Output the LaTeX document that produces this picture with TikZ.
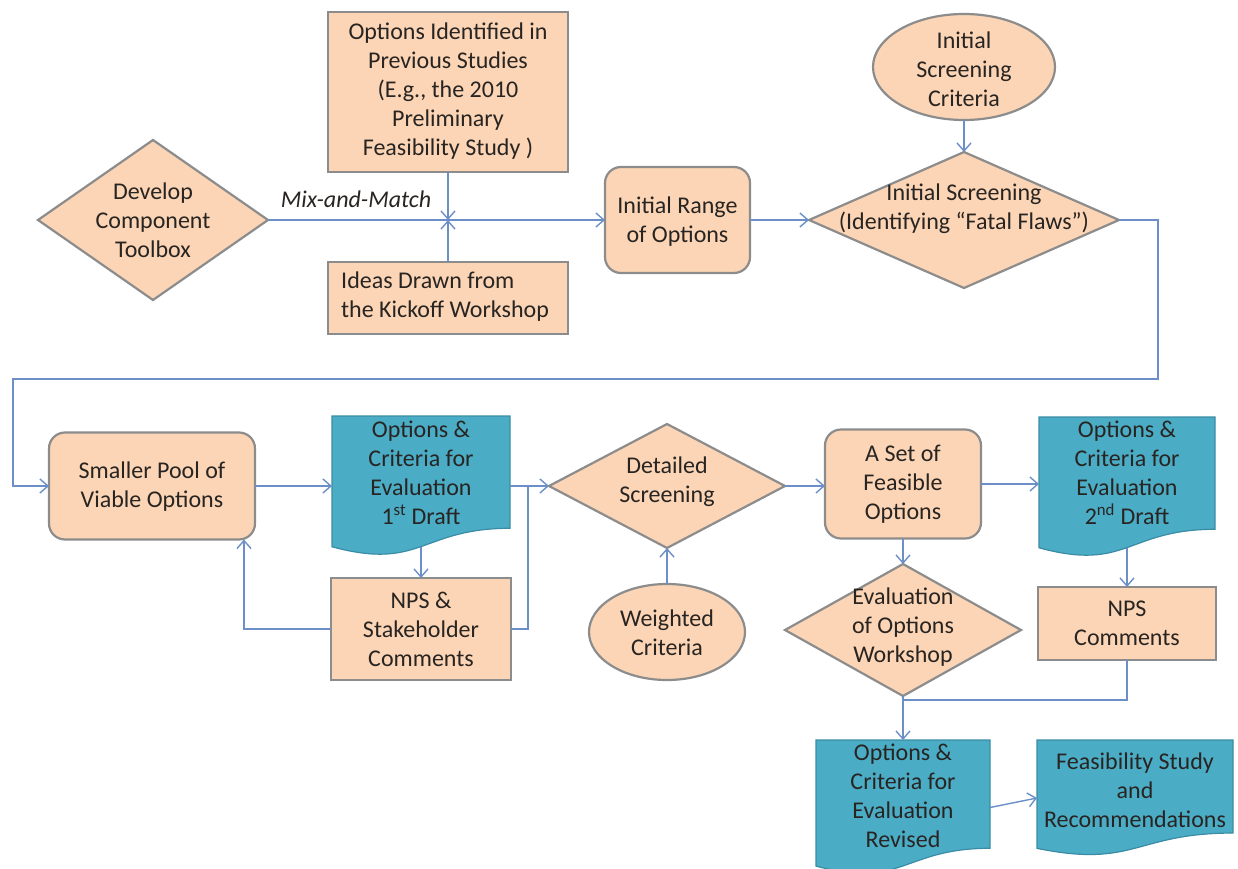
\documentclass[tikz,border=0pt]{standalone}
\usepackage{fontspec}
\setmainfont{Carlito}
\usetikzlibrary{shapes.geometric,arrows.meta,calc}
\definecolor{peach}{RGB}{251,213,181}
\definecolor{bord}{RGB}{140,140,140}
\definecolor{tealf}{RGB}{75,172,198}
\definecolor{tealb}{RGB}{58,140,166}
\definecolor{connc}{RGB}{108,143,200}
\definecolor{txtc}{RGB}{40,36,34}
\newcommand\docpath[1]{%
  \path[docst] (#1.north west) -- (#1.north east)
    -- ($(#1.north east)!0.802!(#1.south east)$)
    .. controls ($(#1.north)!0.802!(#1.south)$) and ($(#1.north)!1.107!(#1.south)$)
    .. ($(#1.north west)!0.934!(#1.south west)$) -- cycle;}
\begin{document}
\begin{tikzpicture}[x=1pt,y=-1pt,
  shp/.style={fill=peach, draw=bord, line width=2.2pt, inner sep=0pt, outer sep=0pt},
  sbox/.style 2 args={shp, rectangle, minimum width=#1, minimum height=#2},
  rbox/.style 2 args={shp, rectangle, rounded corners=16pt, minimum width=#1, minimum height=#2},
  diam/.style 2 args={shp, diamond, minimum width=#1, minimum height=#2},
  ell/.style 2 args={shp, ellipse, minimum width=#1, minimum height=#2},
  docbox/.style 2 args={rectangle, draw=none, inner sep=0pt, outer sep=0pt, minimum width=#1, minimum height=#2},
  docst/.style={fill=tealf, draw=tealb, line width=1.2pt},
  txt/.style={align=center, font=\fontsize{24}{29}\selectfont, text=txtc, inner sep=0pt},
  conn/.style={draw=connc, line width=1.4pt},
  arr/.style={conn, -{Straight Barb[length=8pt,width=14pt]}}]
\useasboundingbox (0,0) rectangle (1238,869);

% ---------- top row ----------
\node[diam={230}{160}] (dev) at (153,220) {};
\node[txt] (devt) at (153,220) {Develop\\Component\\Toolbox};

\node[sbox={240}{160}] (opt) at (448,92) {};
\node[txt] (optt) at (448,91) {Options Identified in\\Previous Studies\\(E.g., the 2010\\Preliminary\\Feasibility Study )};

\node[sbox={240}{72}] (idea) at (448,298) {};
\node[txt, align=left, anchor=west] (ideat) at (341,297) {Ideas Drawn from\\the Kickoff Workshop};

\node[txt, font=\fontsize{24}{29}\selectfont\itshape] (mix) at (356,199) {Mix-and-Match};

\node[rbox={145}{106}] (rng) at (677.5,220) {};
\node[txt] (rngt) at (677.5,222) {Initial Range\\of Options};

\node[ell={182}{106}] (isc) at (964,67) {};
\node[txt] (isct) at (964,69) {Initial\\Screening\\Criteria};

\node[diam={310}{136}] (isd) at (964,220) {};
\node[txt] (isdt) at (964,209) {Initial Screening\\(Identifying “Fatal Flaws”)};

\coordinate (jn) at (448,220);
\draw[conn] (dev.east) -- (jn);
\draw[arr] (jn) -- (rng.west);
\draw[arr] (opt.south) -- (jn);
\draw[arr] (idea.north) -- (jn);
\draw[arr] (rng.east) -- (isd.west);
\draw[arr] (isc.south) -- (isd.north);

% ---------- middle row ----------
\node[rbox={206}{107}] (pool) at (152,486) {};
\node[txt] (poolt) at (152,487) {Smaller Pool of\\Viable Options};

\node[docbox={178}{140}] (d1) at (421,486) {};
\docpath{d1}
\node[txt] (d1t) at (421,473) {Options \&\\Criteria for\\Evaluation\\1\textsuperscript{st} Draft};
\coordinate (d1b) at ($(d1.north)!0.933!(d1.south)$);

\node[sbox={180}{102}] (nps1) at (421,629) {};
\node[txt] (nps1t) at (421,629) {NPS \&\\Stakeholder\\Comments};

\node[diam={236}{124}] (dsd) at (667,486) {};
\node[txt] (dsdt) at (667,482) {Detailed\\Screening};

\node[ell={156}{96}] (wc) at (667,632) {};
\node[txt] (wct) at (667,633) {Weighted\\Criteria};

\node[rbox={156}{109}] (aset) at (903,484) {};
\node[txt] (asett) at (903,484) {A Set of\\Feasible\\Options};

\node[docbox={176}{140}] (d2) at (1127,487) {};
\docpath{d2}
\node[txt] (d2t) at (1127,473) {Options \&\\Criteria for\\Evaluation\\2\textsuperscript{nd} Draft};
\coordinate (d2b) at ($(d2.north)!0.933!(d2.south)$);

\node[sbox={178}{73}] (nps2) at (1127,623.5) {};
\node[txt] (nps2t) at (1127,623) {NPS\\Comments};

\node[diam={236}{132}] (eow) at (903,630) {};
\node[txt] (eowt) at (903,627) {Evaluation\\of Options\\Workshop};

% ---------- bottom row ----------
\node[docbox={174}{135}] (dr) at (903,807.5) {};
\docpath{dr}
\node[txt] (drt) at (903,796) {Options \&\\Criteria for\\Evaluation\\Revised};

\node[docbox={196}{116}] (fs) at (1135,798) {};
\docpath{fs}
\node[txt] (fst) at (1135,790) {Feasibility Study\\and\\Recommendations};

% ---------- connectors ----------
\coordinate (r1) at (1158,220);
\coordinate (r2) at (1158,379);
\coordinate (r3) at (13,379);
\draw[arr] (isd.east) -- (r1) -- (r2) -- (r3) |- (pool.west);

\draw[arr] (pool.east) -- (d1.west);
\draw[arr] (d1b) -- (nps1.north);
\draw[arr] (nps1.west) -| ([xshift=-11pt]pool.south east);
\coordinate (m1) at (528,486);
\draw[conn] (nps1.east) -| (m1);
\draw[arr] (d1.east) -- (dsd.west);
\draw[arr] (wc.north) -- (dsd.south);
\draw[arr] (dsd.east) -- (dsd.east -| aset.west);
\draw[arr] (aset.east) -- (aset.east -| d2.west);
\draw[arr] (d2b) -- (nps2.north);
\draw[arr] (aset.south) -- (eow.north);
\coordinate (mj) at (903,700);
\draw[arr] (eow.south) -- (dr.north);
\draw[conn] (nps2.south) |- (mj);
\draw[arr] (dr.east) -- (fs.west);
\end{tikzpicture}
\end{document}
